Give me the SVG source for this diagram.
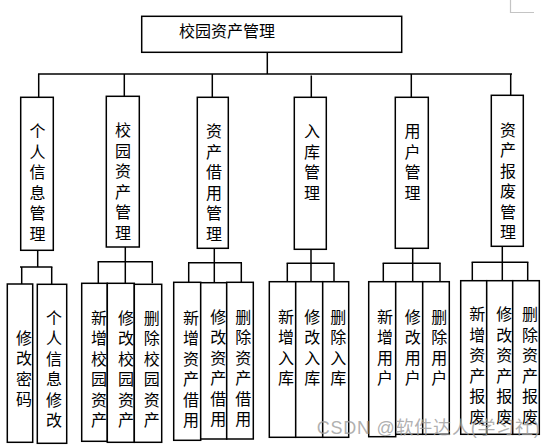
<svg xmlns="http://www.w3.org/2000/svg" width="554" height="447" viewBox="0 0 554 447">
<style>
.box{fill:#fff;stroke:#000;stroke-width:1.5}
.conn line{stroke:#000;stroke-width:1.5}
.lbl{font-family:"Noto Sans CJK SC","Noto Sans CJK TC",sans-serif;font-size:16px;fill:#000;text-anchor:middle}
.title{font-family:"Noto Sans CJK SC",sans-serif;font-size:16px;fill:#000}
.wm{font-family:"Liberation Sans","Noto Sans CJK SC",sans-serif;font-size:18px;fill:#9c9c9c;fill-opacity:0.8}
</style>
<rect width="554" height="447" fill="#fff"/>
<g id="corner" stroke="#c4c4c4" stroke-width="1.2" fill="none">
<polyline points="510.5,0 510.5,12.5 534,12.5"/>
</g>
<g id="connectors" class="conn">
<line x1="267.3" y1="52" x2="267.3" y2="74"/>
<line x1="38" y1="74" x2="512" y2="74"/>
<line x1="38.7" y1="74" x2="38.7" y2="97"/>
<line x1="124.3" y1="74" x2="124.3" y2="96"/>
<line x1="212.3" y1="74" x2="212.3" y2="97"/>
<line x1="311.3" y1="75.5" x2="311.3" y2="97"/>
<line x1="411.3" y1="74" x2="411.3" y2="97"/>
<line x1="510.7" y1="74" x2="510.7" y2="95"/>
<line x1="37.7" y1="250" x2="37.7" y2="267"/>
<line x1="20" y1="267" x2="52.4" y2="267"/>
<line x1="21.7" y1="267" x2="21.7" y2="284"/>
<line x1="51.7" y1="267" x2="51.7" y2="284"/>
<line x1="125.3" y1="247" x2="125.3" y2="261.7"/>
<line x1="97.6" y1="261.7" x2="153" y2="261.7"/>
<line x1="98.3" y1="261.7" x2="98.3" y2="283.3"/>
<line x1="125.3" y1="261.7" x2="125.3" y2="283.3"/>
<line x1="152.3" y1="261.7" x2="152.3" y2="283.3"/>
<line x1="214.3" y1="248" x2="214.3" y2="262.7"/>
<line x1="188" y1="262.7" x2="242" y2="262.7"/>
<line x1="188.7" y1="262.7" x2="188.7" y2="282.3"/>
<line x1="214.3" y1="262.7" x2="214.3" y2="282.3"/>
<line x1="241.3" y1="262.7" x2="241.3" y2="282.3"/>
<line x1="311" y1="249" x2="311" y2="263.3"/>
<line x1="286.6" y1="263.3" x2="334.7" y2="263.3"/>
<line x1="287.3" y1="263.3" x2="287.3" y2="281.7"/>
<line x1="311" y1="263.3" x2="311" y2="281.7"/>
<line x1="334" y1="263.3" x2="334" y2="281.7"/>
<line x1="412.7" y1="248" x2="412.7" y2="263.3"/>
<line x1="382.6" y1="263.3" x2="440.7" y2="263.3"/>
<line x1="383.3" y1="263.3" x2="383.3" y2="281.7"/>
<line x1="412.7" y1="263.3" x2="412.7" y2="281.7"/>
<line x1="440" y1="263.3" x2="440" y2="281.7"/>
<line x1="502.3" y1="246" x2="502.3" y2="262.3"/>
<line x1="471.6" y1="262.3" x2="528.4" y2="262.3"/>
<line x1="472.3" y1="262.3" x2="472.3" y2="280.7"/>
<line x1="502.3" y1="262.3" x2="502.3" y2="280.7"/>
<line x1="527.7" y1="262.3" x2="527.7" y2="280.7"/>
</g>
<g id="root">
<rect class="box" x="141.7" y="16.3" width="260" height="36"/>
<text class="title" x="179" y="37">校园资产管理</text>
</g>
<g id="n1">
<rect class="box" x="20.7" y="97.3" width="32.6" height="153"/>
<text class="lbl"><tspan x="37.5" y="137">个</tspan><tspan x="37.5" y="157.5">人</tspan><tspan x="37.5" y="178">信</tspan><tspan x="37.5" y="198.5">息</tspan><tspan x="37.5" y="219">管</tspan><tspan x="37.5" y="239.5">理</tspan></text>
</g>
<g id="n2">
<rect class="box" x="106.3" y="96.3" width="33" height="150.7"/>
<text class="lbl"><tspan x="123" y="136">校</tspan><tspan x="123" y="156.5">园</tspan><tspan x="123" y="177">资</tspan><tspan x="123" y="197.5">产</tspan><tspan x="123" y="218">管</tspan><tspan x="123" y="238.5">理</tspan></text>
</g>
<g id="n3">
<rect class="box" x="197.3" y="97.3" width="31" height="151"/>
<text class="lbl"><tspan x="214" y="137">资</tspan><tspan x="214" y="157.5">产</tspan><tspan x="214" y="178">借</tspan><tspan x="214" y="198.5">用</tspan><tspan x="214" y="219">管</tspan><tspan x="214" y="239.5">理</tspan></text>
</g>
<g id="n4">
<rect class="box" x="294.3" y="97.3" width="32" height="152"/>
<text class="lbl"><tspan x="312" y="137">入</tspan><tspan x="312" y="157.5">库</tspan><tspan x="312" y="178">管</tspan><tspan x="312" y="198.5">理</tspan></text>
</g>
<g id="n5">
<rect class="box" x="395.3" y="97.3" width="33" height="151"/>
<text class="lbl"><tspan x="412.5" y="137">用</tspan><tspan x="412.5" y="157.5">户</tspan><tspan x="412.5" y="178">管</tspan><tspan x="412.5" y="198.5">理</tspan></text>
</g>
<g id="n6">
<rect class="box" x="491.3" y="95.3" width="32" height="151"/>
<text class="lbl"><tspan x="508" y="135.5">资</tspan><tspan x="508" y="156">产</tspan><tspan x="508" y="176.5">报</tspan><tspan x="508" y="197">废</tspan><tspan x="508" y="217.5">管</tspan><tspan x="508" y="238">理</tspan></text>
</g>
<g id="n1a">
<rect class="box" x="7.3" y="284" width="25.4" height="158.3"/>
<text class="lbl"><tspan x="24" y="343.5">修</tspan><tspan x="24" y="364">改</tspan><tspan x="24" y="384.5">密</tspan><tspan x="24" y="405">码</tspan></text>
</g>
<g id="n1b">
<rect class="box" x="37.3" y="284.3" width="29.4" height="159"/>
<text class="lbl"><tspan x="54" y="323.5">个</tspan><tspan x="54" y="344">人</tspan><tspan x="54" y="364.5">信</tspan><tspan x="54" y="385">息</tspan><tspan x="54" y="405.5">修</tspan><tspan x="54" y="426">改</tspan></text>
</g>
<g id="n2a">
<rect class="box" x="81.7" y="283.3" width="25.6" height="158"/>
<text class="lbl"><tspan x="99" y="323.5">新</tspan><tspan x="99" y="344">增</tspan><tspan x="99" y="364.5">校</tspan><tspan x="99" y="385">园</tspan><tspan x="99" y="405.5">资</tspan><tspan x="99" y="426">产</tspan></text>
</g>
<g id="n2b">
<rect class="box" x="107.3" y="283.3" width="27" height="159"/>
<text class="lbl"><tspan x="126" y="323.5">修</tspan><tspan x="126" y="344">改</tspan><tspan x="126" y="364.5">校</tspan><tspan x="126" y="385">园</tspan><tspan x="126" y="405.5">资</tspan><tspan x="126" y="426">产</tspan></text>
</g>
<g id="n2c">
<rect class="box" x="134.3" y="284.3" width="27.4" height="158"/>
<text class="lbl"><tspan x="151.7" y="323.5">删</tspan><tspan x="151.7" y="344">除</tspan><tspan x="151.7" y="364.5">校</tspan><tspan x="151.7" y="385">园</tspan><tspan x="151.7" y="405.5">资</tspan><tspan x="151.7" y="426">产</tspan></text>
</g>
<g id="n3a">
<rect class="box" x="173.7" y="282.3" width="27" height="158"/>
<text class="lbl"><tspan x="191" y="323.5">新</tspan><tspan x="191" y="344">增</tspan><tspan x="191" y="364.5">资</tspan><tspan x="191" y="385">产</tspan><tspan x="191" y="405.5">借</tspan><tspan x="191" y="426">用</tspan></text>
</g>
<g id="n3b">
<rect class="box" x="200.7" y="282.7" width="26" height="156.3"/>
<text class="lbl"><tspan x="218.3" y="322.5">修</tspan><tspan x="218.3" y="343">改</tspan><tspan x="218.3" y="363.5">资</tspan><tspan x="218.3" y="384">产</tspan><tspan x="218.3" y="404.5">借</tspan><tspan x="218.3" y="425">用</tspan></text>
</g>
<g id="n3c">
<rect class="box" x="226.7" y="282.3" width="26.6" height="156.7"/>
<text class="lbl"><tspan x="243.3" y="322.5">删</tspan><tspan x="243.3" y="343">除</tspan><tspan x="243.3" y="363.5">资</tspan><tspan x="243.3" y="384">产</tspan><tspan x="243.3" y="404.5">借</tspan><tspan x="243.3" y="425">用</tspan></text>
</g>
<g id="n4a">
<rect class="box" x="269.3" y="281.7" width="26.4" height="155.6"/>
<text class="lbl"><tspan x="286" y="322.5">新</tspan><tspan x="286" y="343">增</tspan><tspan x="286" y="363.5">入</tspan><tspan x="286" y="384">库</tspan></text>
</g>
<g id="n4b">
<rect class="box" x="295.7" y="281.7" width="27" height="155.6"/>
<text class="lbl"><tspan x="312.3" y="322.5">修</tspan><tspan x="312.3" y="343">改</tspan><tspan x="312.3" y="363.5">入</tspan><tspan x="312.3" y="384">库</tspan></text>
</g>
<g id="n4c">
<rect class="box" x="322.7" y="281.7" width="26" height="155.6"/>
<text class="lbl"><tspan x="338.3" y="322.5">删</tspan><tspan x="338.3" y="343">除</tspan><tspan x="338.3" y="363.5">入</tspan><tspan x="338.3" y="384">库</tspan></text>
</g>
<g id="n5a">
<rect class="box" x="368.7" y="281.7" width="27" height="155"/>
<text class="lbl"><tspan x="385" y="322.5">新</tspan><tspan x="385" y="343">增</tspan><tspan x="385" y="363.5">用</tspan><tspan x="385" y="384">户</tspan></text>
</g>
<g id="n5b">
<rect class="box" x="395.7" y="281.7" width="27" height="152.6"/>
<text class="lbl"><tspan x="412.7" y="322.5">修</tspan><tspan x="412.7" y="343">改</tspan><tspan x="412.7" y="363.5">用</tspan><tspan x="412.7" y="384">户</tspan></text>
</g>
<g id="n5c">
<rect class="box" x="422.7" y="281.7" width="26.6" height="152.6"/>
<text class="lbl"><tspan x="439.3" y="322.5">删</tspan><tspan x="439.3" y="343">除</tspan><tspan x="439.3" y="363.5">用</tspan><tspan x="439.3" y="384">户</tspan></text>
</g>
<g id="n6a">
<rect class="box" x="460.7" y="280.7" width="26" height="153.6"/>
<text class="lbl"><tspan x="477.3" y="320">新</tspan><tspan x="477.3" y="340.5">增</tspan><tspan x="477.3" y="361">资</tspan><tspan x="477.3" y="381.5">产</tspan><tspan x="477.3" y="402">报</tspan><tspan x="477.3" y="422.5">废</tspan></text>
</g>
<g id="n6b">
<rect class="box" x="486.7" y="280.7" width="26" height="153.6"/>
<text class="lbl"><tspan x="504.3" y="320">修</tspan><tspan x="504.3" y="340.5">改</tspan><tspan x="504.3" y="361">资</tspan><tspan x="504.3" y="381.5">产</tspan><tspan x="504.3" y="402">报</tspan><tspan x="504.3" y="422.5">废</tspan></text>
</g>
<g id="n6c">
<rect class="box" x="512.7" y="280.7" width="26.6" height="153.6"/>
<text class="lbl"><tspan x="530" y="320">删</tspan><tspan x="530" y="340.5">除</tspan><tspan x="530" y="361">资</tspan><tspan x="530" y="381.5">产</tspan><tspan x="530" y="402">报</tspan><tspan x="530" y="422.5">废</tspan></text>
</g>
<g id="watermark">
<text class="wm" x="316.7" y="434" textLength="223" lengthAdjust="spacing">CSDN @软件达人(学习社)</text>
</g>
</svg>
